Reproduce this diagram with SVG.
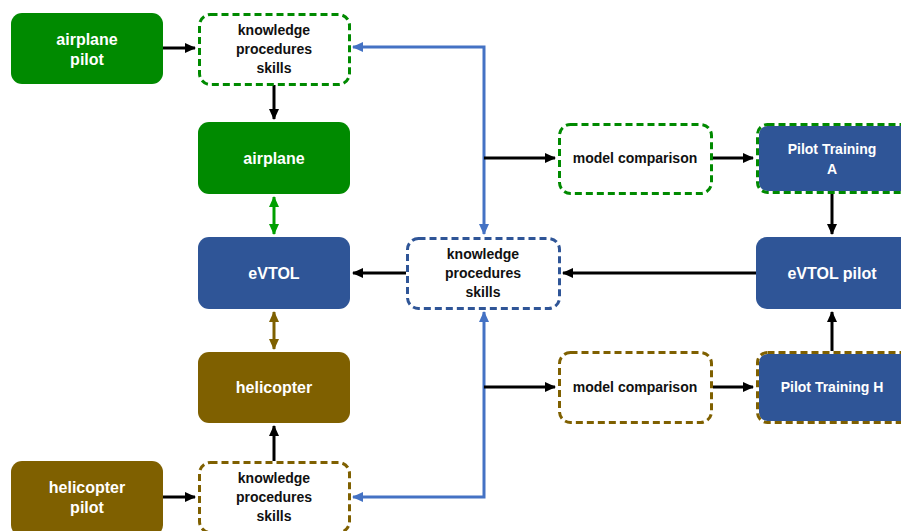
<svg xmlns="http://www.w3.org/2000/svg" width="901" height="531" viewBox="0 0 901 531">
<style>
.t{font-family:"Liberation Sans",Arial,sans-serif;font-weight:bold;text-anchor:middle}
.w{fill:#fff;font-size:16px}
.k{fill:#111;font-size:14px}
.wt{fill:#fff;font-size:14px}
.dash{fill:#fff;stroke-width:3;stroke-dasharray:7 4}
.c{fill:none;stroke:#000;stroke-width:3}
.b{fill:none;stroke:#4472C4;stroke-width:3}
</style>
<defs>
<marker id="ak" markerUnits="userSpaceOnUse" markerWidth="12" markerHeight="12" refX="10" refY="6" orient="auto"><path d="M0,1 L11,6 L0,11 z" fill="#000"/></marker>
<marker id="ab" markerUnits="userSpaceOnUse" markerWidth="12" markerHeight="12" refX="10" refY="6" orient="auto"><path d="M0,1 L11,6 L0,11 z" fill="#4472C4"/></marker>
<marker id="ag" markerUnits="userSpaceOnUse" markerWidth="12" markerHeight="12" refX="10" refY="6" orient="auto-start-reverse"><path d="M0,1 L11,6 L0,11 z" fill="#00A000"/></marker>
<marker id="ah" markerUnits="userSpaceOnUse" markerWidth="12" markerHeight="12" refX="10" refY="6" orient="auto-start-reverse"><path d="M0,1 L11,6 L0,11 z" fill="#7F6000"/></marker>
</defs>
<g id="connectors">
<path class="b" d="M484,158 V47 H353" marker-end="url(#ab)"/>
<path class="b" d="M484,158 V234" marker-end="url(#ab)"/>
<path class="b" d="M484,387 V497 H353" marker-end="url(#ab)"/>
<path class="b" d="M484,387 V312" marker-end="url(#ab)"/>
<path class="c" d="M163,48 H195" marker-end="url(#ak)"/>
<path class="c" d="M274,85 V119" marker-end="url(#ak)"/>
<path class="c" d="M274,461 V426" marker-end="url(#ak)"/>
<path class="c" d="M163,497 H195" marker-end="url(#ak)"/>
<path d="M274,197 V234" fill="none" stroke="#00A000" stroke-width="3" marker-start="url(#ag)" marker-end="url(#ag)"/>
<path d="M274,312 V349" fill="none" stroke="#7F6000" stroke-width="3" marker-start="url(#ah)" marker-end="url(#ah)"/>
<path class="c" d="M484,158 H555" marker-end="url(#ak)"/>
<path class="c" d="M484,387 H555" marker-end="url(#ak)"/>
<path class="c" d="M713,158 H753" marker-end="url(#ak)"/>
<path class="c" d="M713,387 H753" marker-end="url(#ak)"/>
<path class="c" d="M832,194 V234" marker-end="url(#ak)"/>
<path class="c" d="M832,351 V312" marker-end="url(#ak)"/>
<path class="c" d="M756,273 H563" marker-end="url(#ak)"/>
<path class="c" d="M406,273 H353" marker-end="url(#ak)"/>
</g>
<g id="airplane-pilot"><rect x="11" y="13" width="152" height="71" rx="11" fill="#008A00"/><text class="t w" x="87" y="45">airplane</text><text class="t w" x="87" y="65">pilot</text></g>
<g id="kps-airplane"><rect class="dash" x="199.5" y="14.5" width="150" height="70" rx="11" stroke="#008A00"/><text class="t k" x="274" y="35">knowledge</text><text class="t k" x="274" y="54">procedures</text><text class="t k" x="274" y="73">skills</text></g>
<g id="airplane"><rect x="198" y="122" width="152" height="72" rx="11" fill="#008A00"/><text class="t w" x="274" y="164">airplane</text></g>
<g id="evtol"><rect x="198" y="237" width="152" height="72" rx="11" fill="#2F5597"/><text class="t w" x="274" y="279">eVTOL</text></g>
<g id="helicopter"><rect x="198" y="352" width="152" height="71" rx="11" fill="#7F6000"/><text class="t w" x="274" y="393">helicopter</text></g>
<g id="kps-helicopter"><rect class="dash" x="199.5" y="462.5" width="150" height="70" rx="11" stroke="#7F6000"/><text class="t k" x="274" y="483">knowledge</text><text class="t k" x="274" y="502">procedures</text><text class="t k" x="274" y="521">skills</text></g>
<g id="helicopter-pilot"><rect x="11" y="461" width="152" height="75" rx="11" fill="#7F6000"/><text class="t w" x="87" y="493">helicopter</text><text class="t w" x="87" y="513">pilot</text></g>
<g id="kps-evtol"><rect class="dash" x="407.5" y="238.5" width="152" height="70" rx="11" stroke="#2F5597"/><text class="t k" x="483" y="259">knowledge</text><text class="t k" x="483" y="278">procedures</text><text class="t k" x="483" y="297">skills</text></g>
<g id="model-comparison-a"><rect class="dash" x="559.5" y="124.5" width="152" height="69" rx="11" stroke="#008A00"/><text class="t k" x="635" y="163">model comparison</text></g>
<g id="model-comparison-h"><rect class="dash" x="559.5" y="352.5" width="152" height="70" rx="11" stroke="#7F6000"/><text class="t k" x="635" y="392">model comparison</text></g>
<g id="pilot-training-a"><rect x="757.5" y="124.5" width="157" height="68" rx="10" fill="#2F5597" stroke="#fff" stroke-width="3"/><rect class="dash" x="757.5" y="124.5" width="157" height="68" rx="10" stroke="#008A00" style="fill:none"/><text class="t wt" x="832" y="154">Pilot Training</text><text class="t wt" x="832" y="174">A</text></g>
<g id="pilot-training-h"><rect x="757.5" y="352.5" width="157" height="70" rx="10" fill="#2F5597" stroke="#fff" stroke-width="3"/><rect class="dash" x="757.5" y="352.5" width="157" height="70" rx="10" stroke="#7F6000" style="fill:none"/><text class="t wt" x="832" y="392">Pilot Training H</text></g>
<g id="evtol-pilot"><rect x="756" y="237" width="160" height="72" rx="11" fill="#2F5597"/><text class="t w" x="832" y="279">eVTOL pilot</text></g>
</svg>
